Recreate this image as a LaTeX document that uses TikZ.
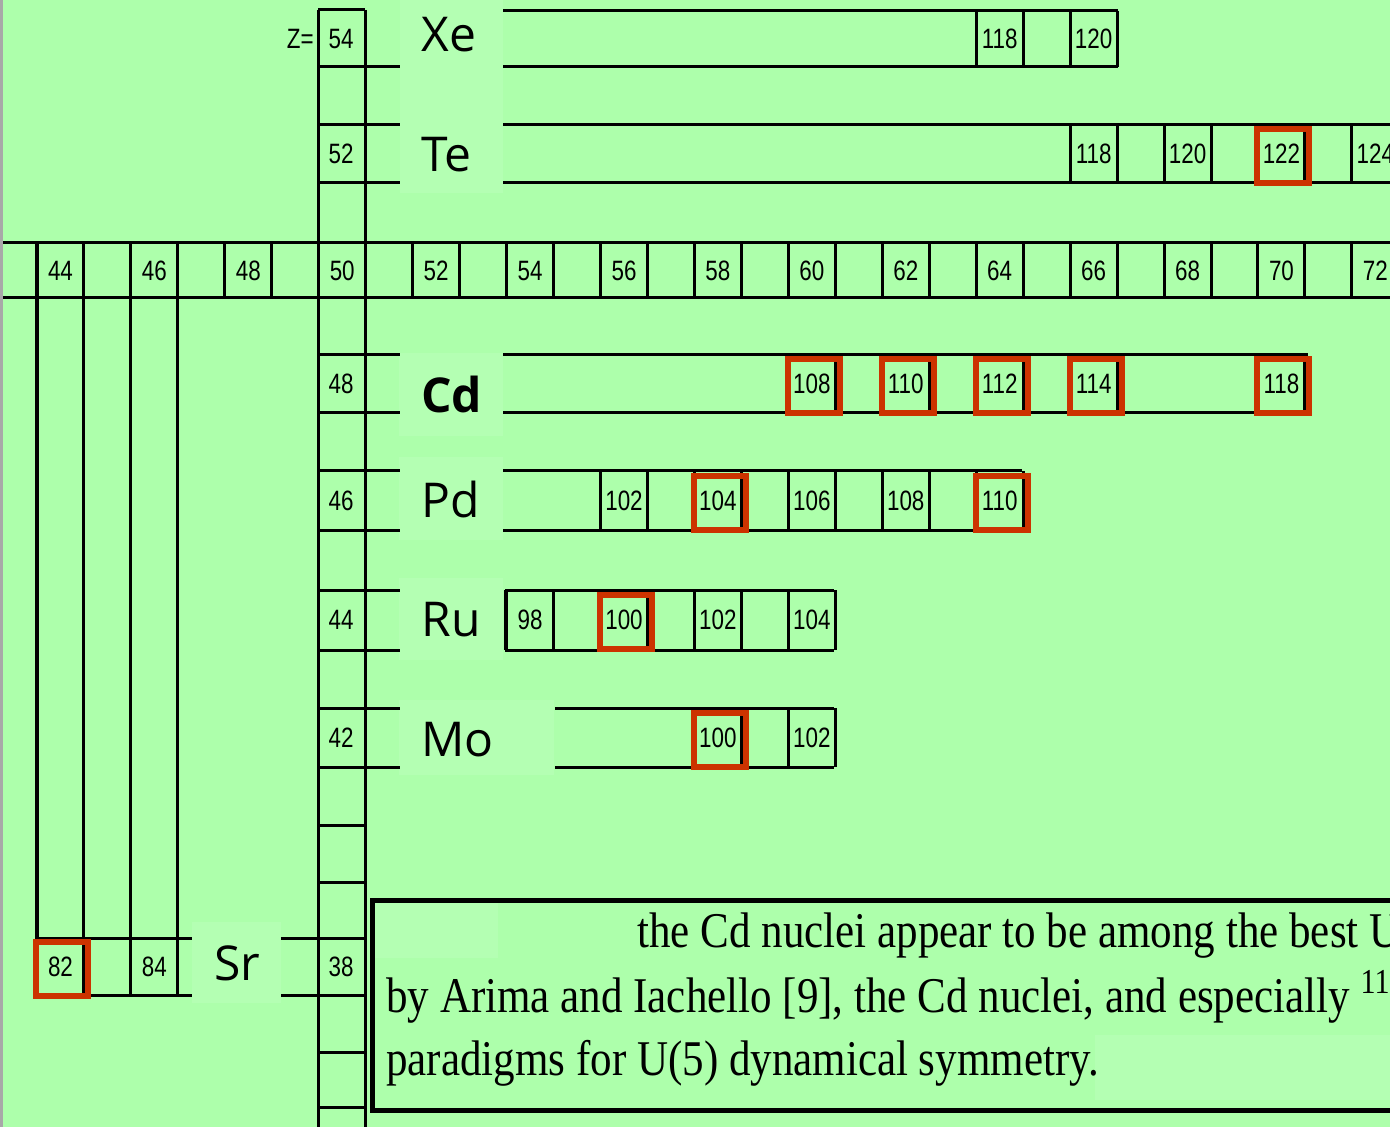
\documentclass[tikz,border=0pt]{standalone}
\usepackage{fontspec}
\setmainfont{Liberation Serif}
\newfontfamily\elemfont{Open Sans}
\newfontfamily\numfont[FakeStretch=0.8]{Liberation Sans}
\newfontfamily\quotefont[FakeStretch=0.86]{Liberation Serif}
\usetikzlibrary{positioning}
\definecolor{chartgreen}{RGB}{173,255,171}
\definecolor{patchgreen}{RGB}{180,255,179}
\definecolor{markred}{RGB}{204,51,0}
\definecolor{edgegray}{RGB}{168,168,168}
\tikzset{
  gridln/.style={draw=black, line width=1.5pt},
  thickln/.style={draw=black, line width=2.3pt},
  numlab/.style={font=\numfont\fontsize{14}{16}\selectfont, inner sep=1pt},
  elab/.style={font=\elemfont\fontsize{24}{28}\selectfont, inner sep=0pt, anchor=west},
  hibox/.style={draw=markred, line width=3pt, minimum width=26pt,
                minimum height=27pt, inner sep=0pt},
  quote/.style={font=\quotefont\fontsize{25}{30}\selectfont, anchor=base west,
                inner sep=0pt},
}
% one isotope cell: N, top y, bottom y, mass number, element
\newcommand{\isoCell}[5]{%
  \draw[gridln] ({37+(#1-44)*46.96},#2) -- ({37+(#1-44)*46.96},#3)
                ({37+(#1-43)*46.96},#2) -- ({37+(#1-43)*46.96},#3);
  \node[numlab] (#5#4) at ({37+(#1-43.5)*46.96},{(#2+#3)/2}) {#4};}
\newcommand{\markCell}[2]{\node[hibox] (hi#1#2) at ([shift={(1pt,-1pt)}]#1#2.center) {};}

\begin{document}
\begin{tikzpicture}[x=0.5pt,y=-0.5pt]
  \useasboundingbox (0,0) rectangle (1390,1127);
  \clip (0,0) rectangle (1390,1127);
  \fill[chartgreen] (0,0) rectangle (1390,1127);
  \fill[edgegray] (0,0) rectangle (3,1127);
  % light label patches
  \fill[patchgreen] (400,0) rectangle (503,193);
  \fill[patchgreen] (399,353) rectangle (503,436);
  \fill[patchgreen] (399,457) rectangle (503,540);
  \fill[patchgreen] (399,578) rectangle (503,660);
  \fill[patchgreen] (399,700) rectangle (554,775);
  \fill[patchgreen] (192,922) rectangle (281,1003);

  % Z column
  \draw[gridln] (318,10) -- (318,1127) (365,10) -- (365,1127);
  \foreach \yy in {10,67,125,183,243,298,355,413,471,531,590,650,708,767,825,882,938,995,1052,1107}
    \draw[gridln] (318,\yy) -- (365,\yy);
  \foreach \z/\yy in {54/39,52/154,48/384,46/501,44/620,42/738,38/967}
    \node[numlab] (Z\z) at (341,\yy) {\z};
  \node[numlab, left=5pt of Z54] (Zeq) {Z=};

  % N row
  \draw[gridln] (3,243) -- (1390,243) (3,298) -- (1390,298);
  \foreach \k in {1,...,29}
    \draw[gridln] ({37+\k*46.96},243) -- ({37+\k*46.96},298);
  \foreach \n in {44,46,...,72}
    \node[numlab] (N\n) at ({37+(\n-43.5)*46.96},271) {\n};
  \draw[thickln] (37,243) -- (37,995);
  \foreach \k in {1,2,3}
    \draw[gridln] ({37+\k*46.96},298) -- ({37+\k*46.96},995);

  % Xe
  \draw[gridln] (365,67) -- (400,67) (503,11) -- (1118,11) (503,67) -- (1118,67);
  \isoCell{64}{11}{67}{118}{Xe}
  \isoCell{66}{11}{67}{120}{Xe}
  \node[elab] (Xe) at (421,35) {Xe};
  % Te
  \draw[gridln] (365,125) -- (400,125) (365,183) -- (400,183)
                (503,125) -- (1390,125) (503,183) -- (1390,183);
  \isoCell{66}{125}{183}{118}{Te}
  \isoCell{68}{125}{183}{120}{Te}
  \isoCell{70}{125}{183}{122}{Te}
  \isoCell{72}{125}{183}{124}{Te}
  \node[elab] (Te) at (421,155) {Te};
  % Cd
  \draw[gridln] (365,355) -- (400,355) (365,413) -- (400,413)
                (503,355) -- (1308,355) (503,413) -- (1308,413);
  \isoCell{60}{355}{413}{108}{Cd}
  \isoCell{62}{355}{413}{110}{Cd}
  \isoCell{64}{355}{413}{112}{Cd}
  \isoCell{66}{355}{413}{114}{Cd}
  \isoCell{70}{355}{413}{118}{Cd}
  \node[elab, font=\elemfont\bfseries\fontsize{24}{28}\selectfont] (Cd) at (421,395) {Cd};
  % Pd
  \draw[gridln] (365,471) -- (400,471) (365,531) -- (400,531)
                (503,471) -- (1022,471) (503,531) -- (1022,531);
  \isoCell{56}{471}{531}{102}{Pd}
  \isoCell{58}{471}{531}{104}{Pd}
  \isoCell{60}{471}{531}{106}{Pd}
  \isoCell{62}{471}{531}{108}{Pd}
  \isoCell{64}{471}{531}{110}{Pd}
  \node[elab] (Pd) at (421,499) {Pd};
  % Ru
  \draw[gridln] (365,590) -- (400,590) (365,650) -- (400,650)
                (505,590) -- (834,590) (505,650) -- (834,650) (505,590) -- (505,650);
  \isoCell{54}{590}{650}{98}{Ru}
  \isoCell{56}{590}{650}{100}{Ru}
  \isoCell{58}{590}{650}{102}{Ru}
  \isoCell{60}{590}{650}{104}{Ru}
  \node[elab] (Ru) at (421,620) {Ru};
  % Mo
  \draw[gridln] (365,708) -- (400,708) (365,767) -- (400,767)
                (555,708) -- (834,708) (555,767) -- (834,767);
  \isoCell{58}{708}{767}{100}{Mo}
  \isoCell{60}{708}{767}{102}{Mo}
  \node[elab] (Mo) at (421,740) {Mo};
  % Sr
  \draw[gridln] (37,938) -- (192,938) (37,995) -- (192,995)
                (281,938) -- (318,938) (281,995) -- (318,995);
  \isoCell{44}{938}{995}{82}{Sr}
  \isoCell{46}{938}{995}{84}{Sr}
  \node[elab] (Sr) at (214,963) {Sr};

  % highlighted isotopes
  \markCell{Te}{122}
  \markCell{Cd}{108}
  \markCell{Cd}{110}
  \markCell{Cd}{112}
  \markCell{Cd}{114}
  \markCell{Cd}{118}
  \markCell{Pd}{104}
  \markCell{Pd}{110}
  \markCell{Ru}{100}
  \markCell{Mo}{100}
  \markCell{Sr}{82}

  % quoted text
  \fill[patchgreen] (374,903) rectangle (498,958);
  \fill[patchgreen] (1095,1035) rectangle (1390,1100);
  \draw[black, line width=2.5pt] (372,900) rectangle (1400,1110);
  \node[quote] (txt1) at (637,947) {the Cd nuclei appear to be among the best U};
  \node[quote] (txt2) at (386,1012) {by Arima and Iachello [9], the Cd nuclei, and especially \textsuperscript{11}};
  \node[quote] (txt3) at (386,1075) {paradigms for U(5) dynamical symmetry.};
\end{tikzpicture}
\end{document}
